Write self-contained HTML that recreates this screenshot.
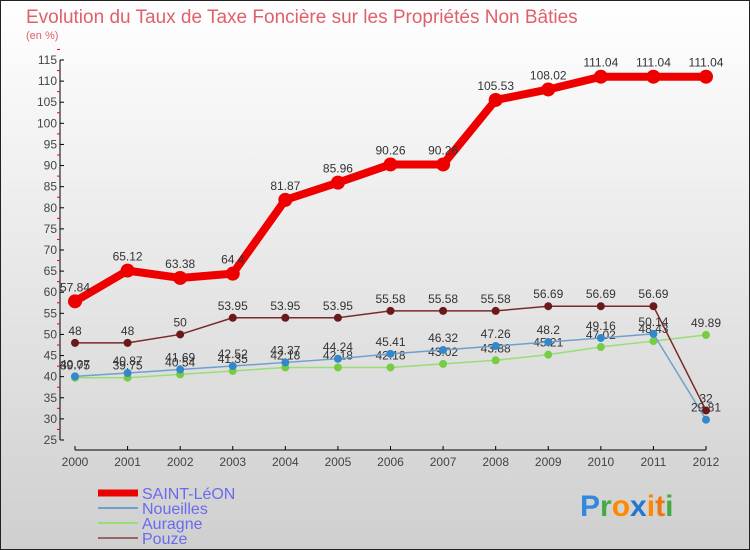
<!DOCTYPE html>
<html><head><meta charset="utf-8"><style>
body{margin:0;width:750px;height:550px;overflow:hidden;font-family:"Liberation Sans",sans-serif}
svg{display:block}
</style></head><body>
<svg id="c" width="750" height="550" xmlns="http://www.w3.org/2000/svg">
<defs><linearGradient id="bg" x1="0" y1="0" x2="0" y2="1"><stop offset="0" stop-color="#ffffff"/><stop offset="1" stop-color="#cfcfcf"/></linearGradient></defs>
<rect x="0.5" y="0.5" width="749" height="549" fill="url(#bg)" stroke="#222"/>
<text x="26" y="23" font-size="19" fill="#e0606a">Evolution du Taux de Taxe Foncière sur les Propriétés Non Bâties</text>
<text x="26" y="39" font-size="11" fill="#e0606a">(en %)</text>
<g id="axes"></g><g id="series"></g>
<g>
<line x1="98" y1="493" x2="138" y2="493" stroke="#ee0000" stroke-width="7"/>
<text x="142" y="499" font-size="16" fill="#6a6aee">SAINT-LéON</text>
<line x1="98" y1="508" x2="138" y2="508" stroke="#6fa0cc" stroke-width="2"/>
<text x="142" y="514" font-size="16" fill="#6a6aee">Noueilles</text>
<line x1="98" y1="523" x2="138" y2="523" stroke="#99dd77" stroke-width="2"/>
<text x="142" y="529" font-size="16" fill="#6a6aee">Auragne</text>
<line x1="98" y1="538" x2="138" y2="538" stroke="#996666" stroke-width="2"/>
<text x="142" y="544" font-size="16" fill="#6a6aee">Pouze</text>
</g>
<text x="580" y="516" font-size="30" font-weight="bold"><tspan fill="#3388dd">P</tspan><tspan fill="#44aa44">r</tspan><tspan fill="#ff8800">o</tspan><tspan fill="#2277cc">x</tspan><tspan fill="#ff8800">i</tspan><tspan fill="#ee7711">t</tspan><tspan fill="#44aa44">i</tspan></text>
</svg>
<script>
const years=[2000,2001,2002,2003,2004,2005,2006,2007,2008,2009,2010,2011,2012];
const saintLeon=[57.84,65.12,63.38,64.4,81.87,85.96,90.26,90.26,105.53,108.02,111.04,111.04,111.04];
const noueilles=[40.07,40.87,41.69,42.52,43.37,44.24,45.41,46.32,47.26,48.2,49.16,50.14,29.81];
const auragne=[39.75,39.75,40.54,41.35,42.18,42.18,42.18,43.02,43.88,45.21,47.02,48.43,49.89];
const pouze=[48,48,50,53.95,53.95,53.95,55.58,55.58,55.58,56.69,56.69,56.69,32];
const yTicks=[25,30,35,40,45,50,55,60,65,70,75,80,85,90,95,100,105,110,115];
const NS="http://www.w3.org/2000/svg";
const X=i=>75+i*(706-75)/12;
const Y=v=>60+(115-v)*(380/90);
function mk(tag,attrs,parent,text){const e=document.createElementNS(NS,tag);for(const k in attrs)e.setAttribute(k,attrs[k]);if(text!==undefined)e.textContent=text;parent.appendChild(e);return e;}
const ax=document.getElementById('axes');
let e=mk('line',{x1:60,y1:Y(115),x2:60,y2:Y(25),stroke:'#000'},ax);


e=mk('line',{x1:X(0),y1:450,x2:X(12),y2:450,stroke:'#000'},ax);


yTicks.forEach(t=>{
  mk('line',{x1:60,y1:Y(t),x2:64,y2:Y(t),stroke:'#000'},ax);
  mk('line',{x1:57,y1:Y(t+2.5),x2:60,y2:Y(t+2.5),stroke:'#e00'},ax);
  const l=mk('text',{x:57,y:Y(t)+4,'font-size':12,'text-anchor':'end',fill:'#444'},ax,String(t));
  
  
});
years.forEach((yr,i)=>{
  mk('line',{x1:X(i),y1:446,x2:X(i),y2:450,stroke:'#000'},ax);
  const l=mk('text',{x:X(i),y:466,'font-size':12,'text-anchor':'middle',fill:'#444'},ax,String(yr));
  
  
});
const sg=document.getElementById('series');
function series(vals,name,color,w,r,fill,labelDy){
  const g=mk('g',{},sg);
  
  
  const p=mk('polyline',{points:vals.map((v,i)=>X(i)+','+Y(v)).join(' '),fill:'none',stroke:color,'stroke-width':w,'stroke-linejoin':'round'},g);
  
  
  vals.forEach((v,i)=>{
    const c=mk('circle',{cx:X(i),cy:Y(v),r:r,fill:fill},g);
    
    
    const t=mk('text',{x:X(i),y:Y(v)+labelDy,'font-size':12,'text-anchor':'middle',fill:'#333'},g,String(v));
    
    
  });
}
series(auragne,'auragne','#99dd77',1.5,4,'#77cc44',-8);
series(noueilles,'noueilles','#6fa0cc',1.5,4,'#3388cc',-8);
series(pouze,'pouze','#7a2a2a',1.5,4,'#6a1a1a',-8);
series(saintLeon,'saint-leon','#ee0000',8,7,'#ee0000',-10);
</script>
</body></html>
